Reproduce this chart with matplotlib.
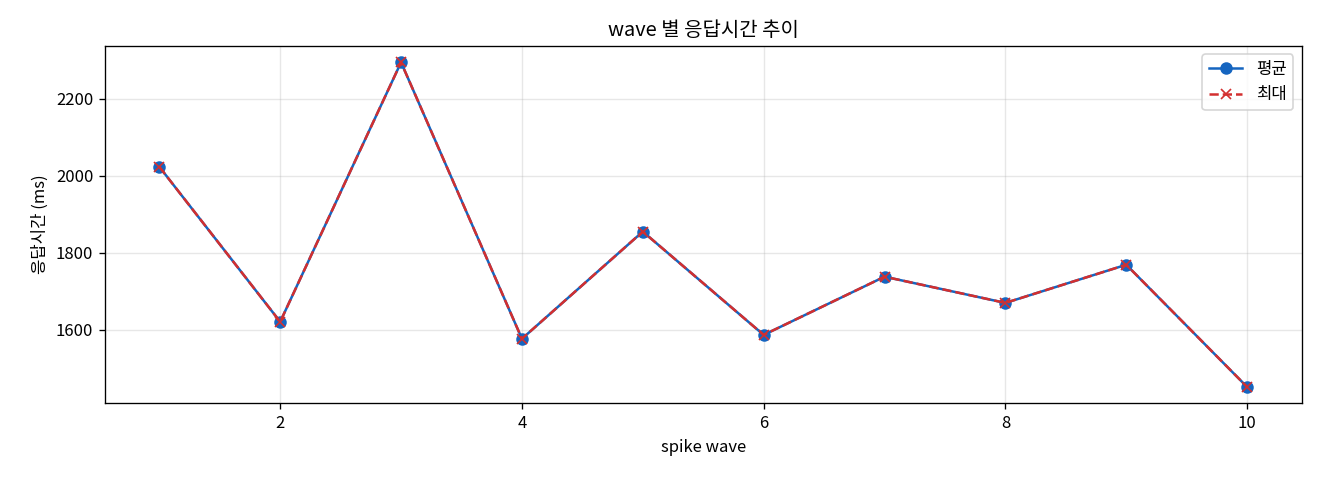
import matplotlib
matplotlib.use('Agg')
import matplotlib.pyplot as plt

plt.rcParams['font.family'] = ['Noto Sans CJK KR', 'DejaVu Sans']
plt.rcParams['axes.unicode_minus'] = False

# wave 별 응답시간 (ms)
waves = [1, 2, 3, 4, 5, 6, 7, 8, 9, 10]
avg_ms = [2023, 1621, 2294, 1577, 1855, 1587, 1738, 1670, 1769, 1452]
max_ms = [2023, 1621, 2294, 1577, 1855, 1587, 1738, 1670, 1769, 1452]

fig, ax = plt.subplots(figsize=(11, 4), dpi=120)

ax.plot(waves, avg_ms, marker='o', color='#1565c0', linewidth=1.5, markersize=6.5, label='평균')
ax.plot(waves, max_ms, marker='x', linestyle='--', color='#d32f2f', linewidth=1.5, markersize=6.5, label='최대')

ax.set_title('wave 별 응답시간 추이')
ax.set_xlabel('spike wave')
ax.set_ylabel('응답시간 (ms)')
ax.grid(True, alpha=0.3)
ax.legend(loc='upper right')

fig.subplots_adjust(left=0.0795, right=0.986, top=0.904, bottom=0.16)
fig.savefig('out.png')
